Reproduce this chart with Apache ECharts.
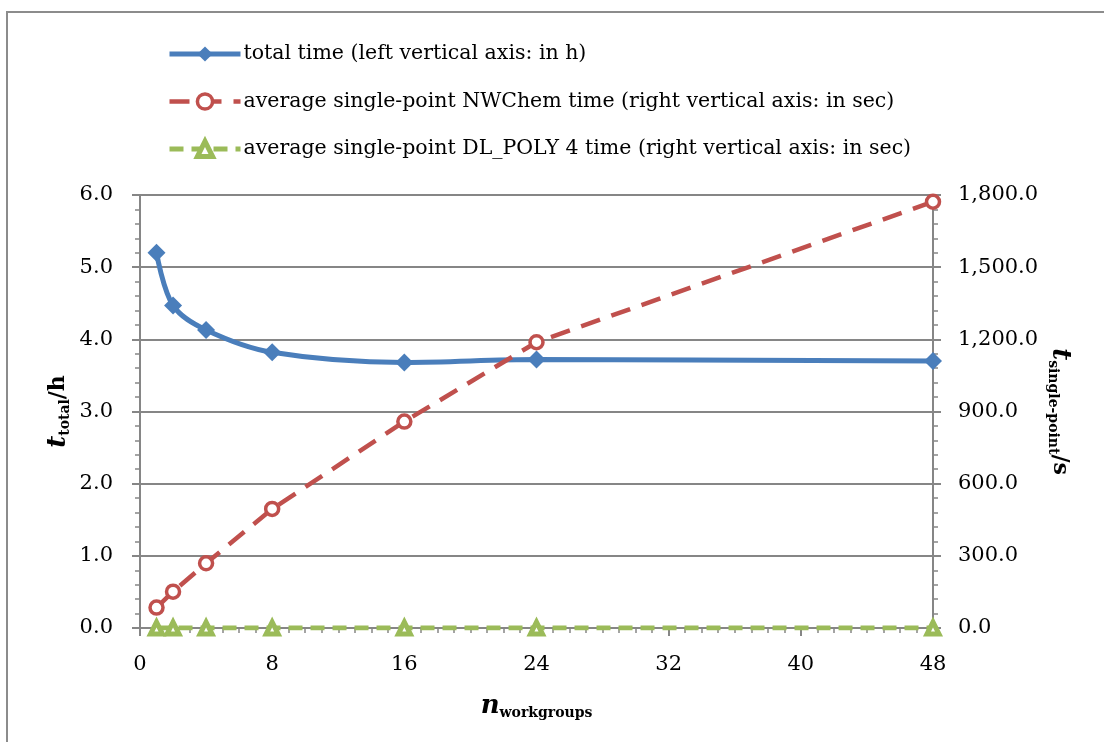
<!DOCTYPE html>
<html>
<head>
<meta charset="utf-8">
<script src="https://cdn.jsdelivr.net/npm/echarts@6/dist/echarts.min.js"></script>
<style>
html, body { margin: 0; padding: 0; background: #fff; }
#main { width: 1104px; height: 742px; }
</style>
</head>
<body>
<div id="main"></div>
<script>
var workgroups = [1, 2, 4, 8, 16, 24, 48];
var totalTime = [5.2, 4.47, 4.13, 3.82, 3.68, 3.72, 3.7];
var nwchemTime = [85, 151, 269, 495, 858, 1188, 1772];
var dlpolyTime = [0, 0, 0, 0, 0, 0, 0];
var seriesNames = [
    'total time (left vertical axis: in h)',
    'average single-point NWChem time (right vertical axis: in sec)',
    'average single-point DL_POLY 4 time (right vertical axis: in sec)'
];

var font = '"DejaVu Serif", "Liberation Serif", serif';
var axisGray = '#868686';

function pairs(xs, ys) {
    return xs.map(function (x, i) { return [x, ys[i]]; });
}

// rich styles for the axis titles: italic symbol, bold subscript, bold unit
var titleRich = {
    i: { fontFamily: font, fontSize: 26, fontWeight: 'bold', fontStyle: 'italic', color: '#000' },
    s: { fontFamily: font, fontSize: 14, fontWeight: 'bold', color: '#000', padding: [14, 0, 0, 0] },
    b: { fontFamily: font, fontSize: 22, fontWeight: 'bold', color: '#000' }
};

var myChart = echarts.init(document.getElementById('main'));
var option = {
    animation: false,
    textStyle: { fontFamily: font },
    graphic: [{
        type: 'rect',
        shape: { x: 7, y: 12, width: 1110, height: 740 },
        style: { fill: 'none', stroke: '#8c8c8c', lineWidth: 2 },
        silent: true
    }],
    legend: {
        orient: 'vertical',
        left: 167,
        top: 43.5,
        padding: 0,
        itemWidth: 71,
        itemHeight: 19,
        itemGap: 26.5,
        lineStyle: { width: 'inherit' },
        itemStyle: { borderWidth: 'inherit' },
        textStyle: { fontFamily: font, fontSize: 20.5, color: '#000', padding: [0, 0, 0, -2] },
        data: seriesNames
    },
    grid: { left: 140, right: 171, top: 195, bottom: 114 },
    xAxis: {
        type: 'value',
        min: 0,
        max: 48,
        interval: 8,
        name: '{i|n}{s|workgroups}',
        nameLocation: 'middle',
        nameGap: 64,
        nameMoveOverlap: false,
        nameTextStyle: { rich: titleRich },
        axisLine: { onZero: false, lineStyle: { color: axisGray, width: 2 } },
        axisTick: { show: true, inside: false, length: 8, lineStyle: { color: axisGray, width: 2 } },
        minorTick: { show: true, splitNumber: 8, length: 5, lineStyle: { color: axisGray, width: 1.5 } },
        axisLabel: { fontFamily: font, fontSize: 21, color: '#000', margin: 26 },
        splitLine: { show: false }
    },
    yAxis: [{
        type: 'value',
        min: 0,
        max: 6,
        interval: 1,
        position: 'left',
        name: '{i|t}{s|total}{b|/h}',
        nameLocation: 'middle',
        nameGap: 68,
        nameRotate: 90,
        nameMoveOverlap: false,
        nameTextStyle: { rich: titleRich },
        axisLine: { show: true, lineStyle: { color: axisGray, width: 2 } },
        axisTick: { show: true, inside: false, length: 8, lineStyle: { color: axisGray, width: 2 } },
        minorTick: { show: true, splitNumber: 5, length: 5, lineStyle: { color: axisGray, width: 1.5 } },
        axisLabel: {
            fontFamily: font, fontSize: 21, color: '#000', margin: 27,
            formatter: function (v) { return v.toFixed(1); }
        },
        splitLine: { show: true, lineStyle: { color: axisGray, width: 2 } }
    }, {
        type: 'value',
        min: 0,
        max: 1800,
        interval: 300,
        position: 'right',
        name: '{i|t}{s|single-point}{b|/s}',
        nameLocation: 'middle',
        nameGap: 113,
        nameRotate: -90,
        nameMoveOverlap: false,
        nameTextStyle: { rich: titleRich },
        axisLine: { show: true, lineStyle: { color: axisGray, width: 2 } },
        axisTick: { show: true, inside: false, length: 8, lineStyle: { color: axisGray, width: 2 } },
        minorTick: { show: true, splitNumber: 5, length: 5, lineStyle: { color: axisGray, width: 1.5 } },
        axisLabel: {
            fontFamily: font, fontSize: 21, color: '#000', margin: 25,
            formatter: function (v) {
                return v.toLocaleString('en-US', { minimumFractionDigits: 1, maximumFractionDigits: 1 });
            }
        },
        splitLine: { show: false }
    }],
    series: [{
        name: seriesNames[0],
        type: 'line',
        yAxisIndex: 0,
        smooth: 0.35,
        data: pairs(workgroups, totalTime),
        symbol: 'diamond',
        symbolSize: 18,
        itemStyle: { color: '#4a7ebb' },
        lineStyle: { color: '#4a7ebb', width: 5 },
        z: 3
    }, {
        name: seriesNames[1],
        type: 'line',
        yAxisIndex: 1,
        data: pairs(workgroups, nwchemTime),
        symbol: 'circle',
        symbolSize: 13,
        itemStyle: { color: '#fff', borderColor: '#c0504d', borderWidth: 3.5 },
        lineStyle: { color: '#c0504d', width: 4.5, type: [20, 12] },
        z: 4
    }, {
        name: seriesNames[2],
        type: 'line',
        yAxisIndex: 1,
        data: pairs(workgroups, dlpolyTime),
        symbol: 'triangle',
        symbolSize: 12,
        itemStyle: { color: '#fff', borderColor: '#9bbb59', borderWidth: 5 },
        lineStyle: { color: '#9bbb59', width: 5, type: [14, 8] },
        z: 5
    }]
};
myChart.setOption(option);
</script>
</body>
</html>
